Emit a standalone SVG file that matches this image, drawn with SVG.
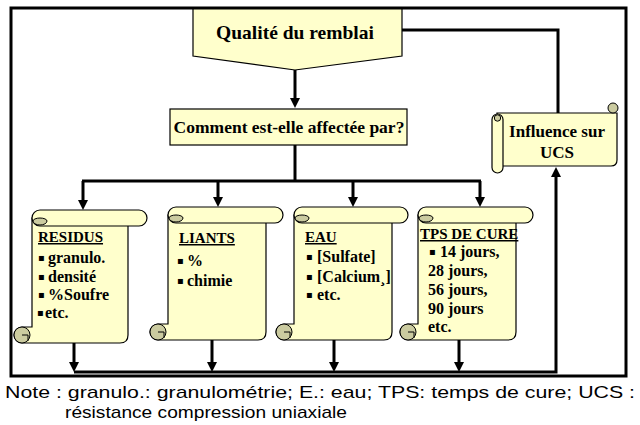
<svg xmlns="http://www.w3.org/2000/svg" width="640" height="425" viewBox="0 0 640 425">
<style>
.fill{fill:#ffffcc;stroke:#000;stroke-width:1.2}
.curl{fill:#cbcba0;stroke:#000;stroke-width:1}
.ln{fill:none;stroke:#000;stroke-width:1}
.t{font-family:"Liberation Serif","Times New Roman","DejaVu Serif",serif;font-weight:bold;fill:#000}
.h{font-size:15px;text-decoration:underline}
.i{font-size:16px}
.b{font-size:10px;font-family:"DejaVu Sans",sans-serif}
.c{fill:none;stroke:#000;stroke-width:3}
.note{font-family:"Liberation Sans",Arial,sans-serif;font-size:17px;fill:#000}
</style>
<defs>
<marker id="ah" markerUnits="userSpaceOnUse" markerWidth="10" markerHeight="10" refX="4" refY="5" orient="auto">
<path d="M0,0 L10,5 L0,10 Z" fill="#000"/>
</marker>
</defs>
<rect x="0" y="0" width="640" height="425" fill="#fff"/>
<rect x="11" y="8" width="615" height="368" fill="none" stroke="#000" stroke-width="3"/>

<g id="connectors">
<polyline class="c" points="402,30 558,30 558,113" stroke-width="2.5"/>
<line class="c" x1="295" y1="70" x2="295" y2="102" marker-end="url(#ah)"/>
<line class="c" x1="295" y1="145" x2="295" y2="181" stroke-width="1.5"/>
<line class="c" x1="82" y1="181" x2="481" y2="181"/>
<line class="c" x1="83" y1="181" x2="83" y2="204" marker-end="url(#ah)"/>
<line class="c" x1="218" y1="181" x2="218" y2="201" marker-end="url(#ah)"/>
<line class="c" x1="353" y1="181" x2="353" y2="201" marker-end="url(#ah)"/>
<line class="c" x1="480" y1="181" x2="480" y2="201" marker-end="url(#ah)"/>
<line class="c" x1="74" y1="343" x2="74" y2="366" marker-end="url(#ah)"/>
<line class="c" x1="212" y1="340" x2="212" y2="366" marker-end="url(#ah)"/>
<line class="c" x1="334" y1="340" x2="334" y2="366" marker-end="url(#ah)"/>
<line class="c" x1="459" y1="340" x2="459" y2="366" marker-end="url(#ah)"/>
<polyline class="c" points="74,372 556,372 556,173" stroke-width="2.5" marker-end="url(#ah)"/>
</g>

<g id="qualite">
<polygon class="fill" points="193,9 402,9 402,56 295,70 193,56"/>
<text class="t" x="295" y="39" font-size="19.5" text-anchor="middle">Qualité du remblai</text>
</g>

<g id="comment">
<rect class="fill" x="170" y="109" width="237" height="36"/>
<text class="t" x="289" y="133" font-size="17.5" text-anchor="middle">Comment est-elle affectée par?</text>
</g>

<g id="influence">
<path class="fill" d="M497,113 H617 V160 Q617,166 611,166 H497 Z"/>
<rect class="fill" x="492" y="114" width="11" height="59" rx="5.5"/>
<circle class="curl" cx="497.5" cy="118" r="3.2"/>
<circle class="curl" cx="613" cy="108" r="5"/>
<text class="t" x="557" y="137" font-size="17" text-anchor="middle">Influence sur</text>
<text class="t" x="557" y="158" font-size="17" text-anchor="middle">UCS</text>
</g>

<g id="residus">
<path class="fill" d="M32,218 H128 V335 Q128,343 120,343 H22 A8,8 0 0 1 22,327 H32 Z"/>
<circle class="curl" cx="22" cy="335" r="8"/>
<path class="ln" d="M22,335 H28 V341"/>
<path class="fill" d="M40,210 H139 A8,8 0 0 1 139,226 H40 A8,8 0 0 1 40,210 Z"/>
<path class="curl" d="M33,221 A7,4 0 0 0 47,221 A7,3 0 0 0 33,221 Z"/>
<text class="t h" x="38" y="242">RESIDUS</text>
<text class="t i"><tspan class="b" x="38" y="261">▪</tspan><tspan x="48" y="263">granulo.</tspan></text>
<text class="t i"><tspan class="b" x="38" y="280">▪</tspan><tspan x="48" y="282">densité</tspan></text>
<text class="t i"><tspan class="b" x="38" y="298">▪</tspan><tspan x="48" y="300">%Soufre</tspan></text>
<text class="t i"><tspan class="b" x="37" y="316">▪</tspan><tspan x="45" y="318">etc.</tspan></text>
</g>

<g id="liants">
<path class="fill" d="M168,215 H266 V332 Q266,340 258,340 H158 A8,8 0 0 1 158,324 H168 Z"/>
<circle class="curl" cx="158" cy="332" r="8"/>
<path class="ln" d="M158,332 H164 V338"/>
<path class="fill" d="M176,207 H275 A8,8 0 0 1 275,223 H176 A8,8 0 0 1 176,207 Z"/>
<path class="curl" d="M169,218 A7,4 0 0 0 183,218 A7,3 0 0 0 169,218 Z"/>
<text class="t h" x="179" y="243">LIANTS</text>
<text class="t i"><tspan class="b" x="177" y="264">▪</tspan><tspan x="187" y="266">%</tspan></text>
<text class="t i"><tspan class="b" x="177" y="284">▪</tspan><tspan x="187" y="286">chimie</tspan></text>
</g>

<g id="eau">
<path class="fill" d="M294,215 H392 V332 Q392,340 384,340 H284 A8,8 0 0 1 284,324 H294 Z"/>
<circle class="curl" cx="284" cy="332" r="8"/>
<path class="ln" d="M284,332 H290 V338"/>
<path class="fill" d="M302,207 H400 A8,8 0 0 1 400,223 H302 A8,8 0 0 1 302,207 Z"/>
<path class="curl" d="M295,218 A7,4 0 0 0 309,218 A7,3 0 0 0 295,218 Z"/>
<text class="t h" x="305" y="242">EAU</text>
<text class="t i"><tspan class="b" x="306" y="260">▪</tspan><tspan x="317" y="262">[Sulfate]</tspan></text>
<text class="t i"><tspan class="b" x="306" y="280">▪</tspan><tspan x="317" y="282">[Calcium¸]</tspan></text>
<text class="t i"><tspan class="b" x="306" y="298">▪</tspan><tspan x="317" y="300">etc.</tspan></text>
</g>

<g id="tps">
<path class="fill" d="M418,215 H516 V332 Q516,340 508,340 H408 A8,8 0 0 1 408,324 H418 Z"/>
<circle class="curl" cx="408" cy="332" r="8"/>
<path class="ln" d="M408,332 H414 V338"/>
<path class="fill" d="M426,207 H525 A8,8 0 0 1 525,223 H426 A8,8 0 0 1 426,207 Z"/>
<path class="curl" d="M419,218 A7,4 0 0 0 433,218 A7,3 0 0 0 419,218 Z"/>
<text class="t h" x="420" y="239">TPS DE CURE</text>
<text class="t i"><tspan class="b" x="429" y="255">▪</tspan><tspan x="440" y="257">14 jours,</tspan></text>
<text class="t i" x="428" y="276">28 jours,</text>
<text class="t i" x="428" y="295">56 jours,</text>
<text class="t i" x="428" y="314">90 jours</text>
<text class="t i" x="428" y="332">etc.</text>
</g>

<text class="note" x="5" y="398" textLength="630" lengthAdjust="spacingAndGlyphs">Note : granulo.: granulométrie; E.: eau; TPS: temps de cure; UCS :</text>
<text class="note" x="65" y="418" textLength="282" lengthAdjust="spacingAndGlyphs">résistance compression uniaxiale</text>
</svg>
